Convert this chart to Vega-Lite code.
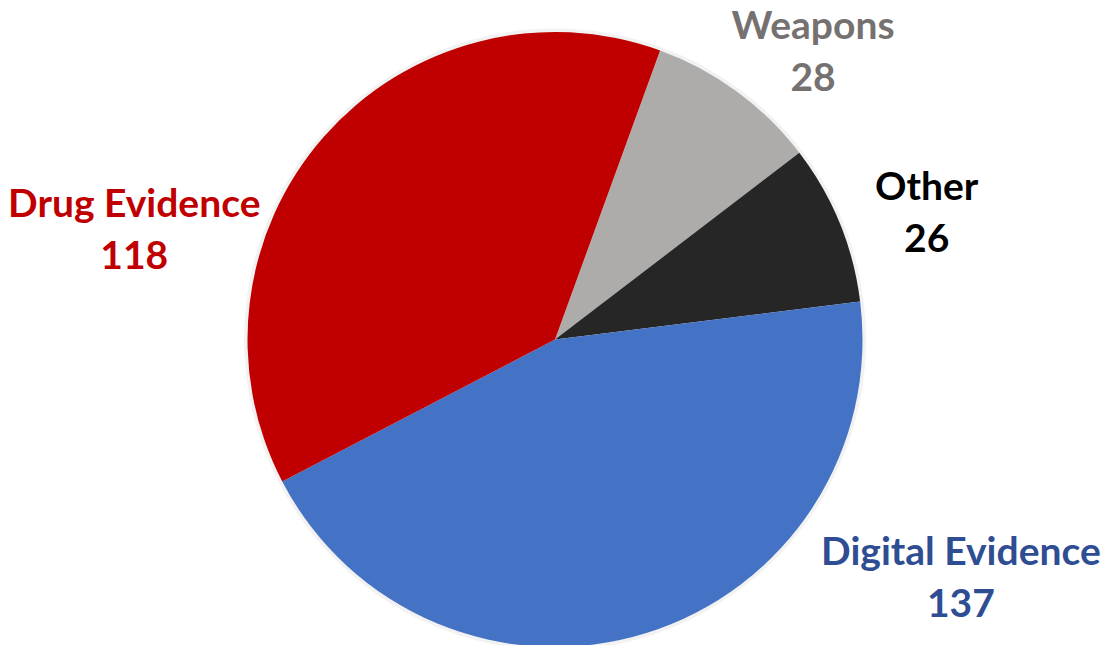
{
  "$schema": "https://vega.github.io/schema/vega-lite/v6.json",
  "width": 1104,
  "height": 645,
  "autosize": {"type": "none"},
  "padding": {"left": 3, "top": 17, "right": 0, "bottom": 0},
  "background": "white",
  "view": {"stroke": null},
  "data": {
    "values": [
      {"category": "Weapons", "value": 28, "order": 1},
      {"category": "Other", "value": 26, "order": 2},
      {"category": "Digital Evidence", "value": 137, "order": 3},
      {"category": "Drug Evidence", "value": 118, "order": 4}
    ]
  },
  "transform": [{"calculate": "datum.category + '\\n' + datum.value", "as": "label"}],
  "encoding": {
    "theta": {"field": "value", "type": "quantitative", "stack": true, "scale": {"range": [0.349, 6.632], "zero": true, "nice": false}},
    "order": {"field": "order", "type": "quantitative"}
  },
  "layer": [
    {"mark": {"type": "arc", "outerRadius": 311, "fill": "#000000", "opacity": 0.05}},
    {
      "mark": {"type": "arc", "outerRadius": 307.5},
      "encoding": {
        "color": {
          "field": "category", "type": "nominal",
          "scale": {"domain": ["Weapons", "Other", "Digital Evidence", "Drug Evidence"], "range": ["#AEABAB", "#262626", "#4472C4", "#C00000"]},
          "legend": null
        }
      }
    },
    {
      "mark": {"type": "text", "radius": 370, "dx": 39, "dy": -14, "font": "Lato", "fontWeight": "bold", "fontSize": 39, "lineBreak": "\n", "lineHeight": 52, "align": "center", "baseline": "middle", "fill": "#767171"},
      "encoding": {"text": {"condition": {"test": "datum.category === 'Weapons'", "field": "label"}, "value": ""}}
    },
    {
      "mark": {"type": "text", "radius": 380, "dx": 20, "dy": -8, "font": "Lato", "fontWeight": "bold", "fontSize": 39, "lineBreak": "\n", "lineHeight": 52, "align": "center", "baseline": "middle", "fill": "#000000"},
      "encoding": {"text": {"condition": {"test": "datum.category === 'Other'", "field": "label"}, "value": ""}}
    },
    {
      "mark": {"type": "text", "radius": 400, "dx": 287, "dy": -168, "font": "Lato", "fontWeight": "bold", "fontSize": 39, "lineBreak": "\n", "lineHeight": 52, "align": "center", "baseline": "middle", "fill": "#2E4D92"},
      "encoding": {"text": {"condition": {"test": "datum.category === 'Digital Evidence'", "field": "label"}, "value": ""}}
    },
    {
      "mark": {"type": "text", "radius": 400, "dx": -120, "dy": 129, "font": "Lato", "fontWeight": "bold", "fontSize": 39, "lineBreak": "\n", "lineHeight": 52, "align": "center", "baseline": "middle", "fill": "#C00000"},
      "encoding": {"text": {"condition": {"test": "datum.category === 'Drug Evidence'", "field": "label"}, "value": ""}}
    }
  ]
}
